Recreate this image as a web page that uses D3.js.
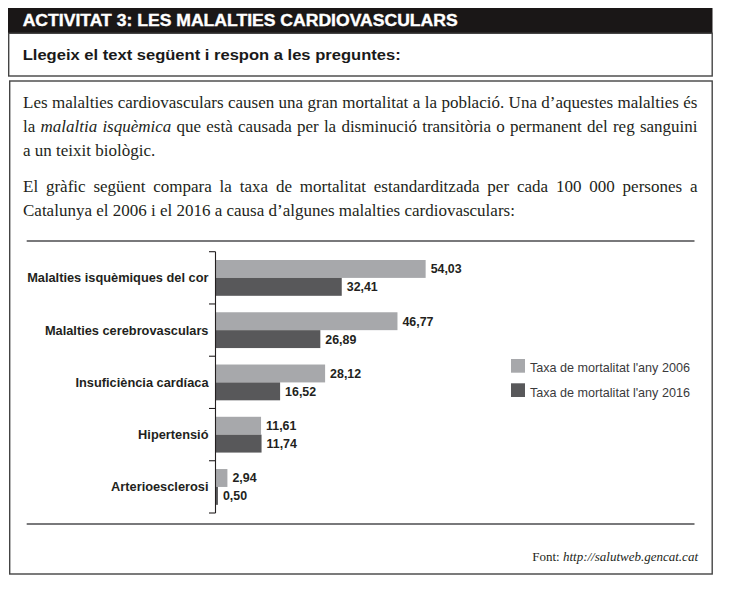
<!DOCTYPE html>
<html>
<head>
<meta charset="utf-8">
<script src="https://cdn.jsdelivr.net/npm/d3@7"></script>
<style>
  body { margin: 0; background: #fff; }
  svg { display: block; }
</style>
</head>
<body>
<svg id="chart" width="736" height="596"></svg>
<script>
// Chart data
const categories = ['Malalties isquèmiques del cor', 'Malalties cerebrovasculars', 'Insuficiència cardíaca', 'Hipertensió', 'Arterioesclerosi'];
const rate2006 = [54.03, 46.77, 28.12, 11.61, 2.94];
const rate2016 = [32.41, 26.89, 16.52, 11.74, 0.50];
const seriesKeys = ['2006', '2016'];
const seriesNames = ["Taxa de mortalitat l'any 2006", "Taxa de mortalitat l'any 2016"];

// Page texts
const titleText = 'ACTIVITAT 3: LES MALALTIES CARDIOVASCULARS';
const promptText = 'Llegeix el text següent i respon a les preguntes:';
const bodyLines = [
  [['Les malalties cardiovasculars causen una gran mortalitat a la població. Una d’aquestes malalties és', false]],
  [['la ', false], ['malaltia isquèmica', true], [' que està causada per la disminució transitòria o permanent del reg sanguini', false]],
  [['a un teixit biològic.', false]],
  [['El gràfic següent compara la taxa de mortalitat estandarditzada per cada 100 000 persones a', false]],
  [['Catalunya el 2006 i el 2016 a causa d’algunes malalties cardiovasculars:', false]]
];
const bodyJustify = [true, true, false, true, false];
const bodyBaselines = [108, 132, 155.5, 192, 215.5];

const colors = ['#a7a8ab', '#58585a'];
const sans = "'Liberation Sans', Arial, sans-serif";
const serif = "'Liberation Serif', 'Times New Roman', serif";

const svg = d3.select('#chart');

// Header bar and boxes
svg.append('rect')
  .attr('x', 8).attr('y', 8).attr('width', 704.5).attr('height', 25.3)
  .attr('fill', '#1a1717');
svg.append('text')
  .attr('x', 22.7).attr('y', 26.2)
  .attr('font-family', sans).attr('font-weight', 'bold').attr('font-size', '15.6px')
  .attr('fill', '#fff').attr('stroke', '#fff').attr('stroke-width', 0.35)
  .attr('textLength', 435).attr('lengthAdjust', 'spacingAndGlyphs')
  .text(titleText);

svg.append('rect')
  .attr('x', 8.7).attr('y', 33.3).attr('width', 703.5).attr('height', 42.7)
  .attr('fill', 'none').attr('stroke', '#444').attr('stroke-width', 1.4);
svg.append('text')
  .attr('x', 22.7).attr('y', 59.5)
  .attr('font-family', sans).attr('font-weight', 'bold').attr('font-size', '14.6px')
  .attr('fill', '#1a1a1a')
  .attr('textLength', 378).attr('lengthAdjust', 'spacingAndGlyphs')
  .text(promptText);

svg.append('rect')
  .attr('x', 9.7).attr('y', 81).attr('width', 702.5).attr('height', 493)
  .attr('fill', 'none').attr('stroke', '#444').attr('stroke-width', 1.4);

// Paragraph text (justified lines get word spacing)
const textLeft = 23, textRight = 697.5;
bodyLines.forEach((segs, i) => {
  const t = svg.append('text')
    .attr('x', textLeft).attr('y', bodyBaselines[i])
    .attr('font-family', serif).attr('font-size', '17px')
    .attr('fill', '#231f20');
  segs.forEach(([s, italic]) => {
    t.append('tspan').attr('font-style', italic ? 'italic' : 'normal').text(s);
  });
  if (bodyJustify[i]) {
    const natural = t.node().getComputedTextLength();
    const spaces = segs.map(s => s[0]).join('').split(' ').length - 1;
    t.attr('word-spacing', ((textRight - textLeft - natural) / spaces) + 'px');
  }
});

// Rules above and below the chart
[241, 524].forEach(y => {
  svg.append('line')
    .attr('x1', 26.7).attr('x2', 694.5).attr('y1', y).attr('y2', y)
    .attr('stroke', '#4d4d4f').attr('stroke-width', 1.4);
});

// Scales
const x = d3.scaleLinear().domain([0, 60]).range([216, 448.8]);
const y = d3.scaleBand().domain(categories).range([251.7, 513]);
const ySub = d3.scaleBand().domain(seriesKeys).range([8.3, 44.1]);
const fmt = d3.formatLocale({decimal: ',', thousands: '.', grouping: [3], currency: ['', '€']}).format('.2f');

const rows = categories.map((c, i) => ({cat: c, values: [rate2006[i], rate2016[i]]}));

// Bars
const groups = svg.append('g').selectAll('g')
  .data(rows)
  .enter()
  .append('g')
  .attr('transform', d => `translate(0,${y(d.cat)})`);

groups.selectAll('rect')
  .data(d => d.values.map((v, k) => ({key: seriesKeys[k], v, k})))
  .enter()
  .append('rect')
  .attr('x', x(0))
  .attr('y', d => ySub(d.key))
  .attr('width', d => x(d.v) - x(0))
  .attr('height', ySub.bandwidth())
  .attr('fill', d => colors[d.k]);

// Value labels
groups.selectAll('text')
  .data(d => d.values.map((v, k) => ({key: seriesKeys[k], v, k})))
  .enter()
  .append('text')
  .attr('x', d => x(d.v) + 5)
  .attr('y', d => ySub(d.key) + ySub.bandwidth() / 2)
  .attr('dy', '0.36em')
  .attr('font-family', sans).attr('font-weight', 'bold').attr('font-size', '12.4px')
  .attr('fill', '#231f20')
  .text(d => fmt(d.v));

// Category axis with ticks at band edges
const axis = svg.append('g').attr('stroke', '#231f20').attr('stroke-width', 1.1);
axis.append('line')
  .attr('x1', x(0) - 0.5).attr('x2', x(0) - 0.5)
  .attr('y1', y.range()[0]).attr('y2', y.range()[1]);
axis.selectAll('line.tick')
  .data(categories.map(c => y(c)).concat([y.range()[1]]))
  .enter()
  .append('line')
  .attr('class', 'tick')
  .attr('x1', x(0) - 7).attr('x2', x(0) - 0.5)
  .attr('y1', d => d).attr('y2', d => d);

svg.append('g').selectAll('text')
  .data(categories)
  .enter()
  .append('text')
  .attr('x', 208.5)
  .attr('y', d => y(d) + y.bandwidth() / 2 + 4.5)
  .attr('text-anchor', 'end')
  .attr('font-family', sans).attr('font-weight', 'bold').attr('font-size', '12.8px')
  .attr('fill', '#231f20')
  .text(d => d);

// Legend
const legend = svg.append('g').attr('transform', 'translate(511,359)');
seriesNames.forEach((name, i) => {
  legend.append('rect')
    .attr('x', 0).attr('y', i * 24.3)
    .attr('width', 14).attr('height', 13.7)
    .attr('fill', colors[i]);
  legend.append('text')
    .attr('x', 19).attr('y', i * 24.3 + 13.3)
    .attr('font-family', sans).attr('font-size', '12.6px')
    .attr('fill', '#3a3a3c')
    .text(name);
});

// Source
const src = svg.append('text')
  .attr('x', 698).attr('y', 560.5)
  .attr('text-anchor', 'end')
  .attr('font-family', serif).attr('font-size', '13px')
  .attr('fill', '#231f20');
src.append('tspan').text('Font: ');
src.append('tspan').attr('font-style', 'italic').text('http://salutweb.gencat.cat');
</script>
</body>
</html>
